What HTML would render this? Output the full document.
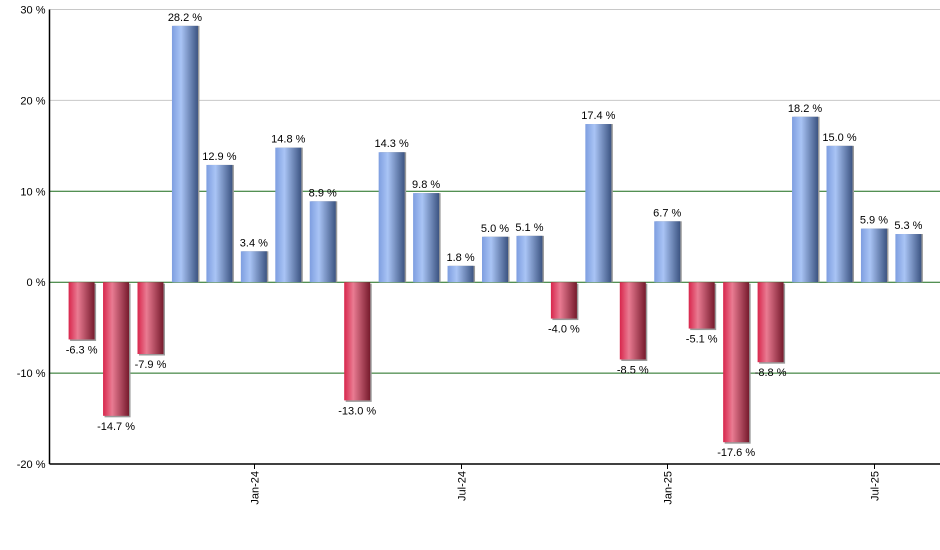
<!DOCTYPE html>
<html><head><meta charset="utf-8"><style>
body{margin:0;background:#fff;}
svg{display:block;font-family:"Liberation Sans",Arial,sans-serif;}
</style></head><body>
<svg id="chart" width="940" height="550" viewBox="0 0 940 550">
<defs>
<linearGradient id="gb" x1="0" x2="1" y1="0" y2="0">
<stop offset="0" stop-color="#7e9ee0"/><stop offset="0.35" stop-color="#a9c4f5"/><stop offset="1" stop-color="#3c5482"/>
</linearGradient>
<linearGradient id="gr" x1="0" x2="1" y1="0" y2="0">
<stop offset="0" stop-color="#d8264c"/><stop offset="0.35" stop-color="#e97b92"/><stop offset="1" stop-color="#761a2c"/>
</linearGradient>
</defs>
<g id="grid"></g>
<g id="bars"></g>
<g id="axes"></g>
</svg>
<script>
const categories=["Aug-23","Sep-23","Oct-23","Nov-23","Dec-23","Jan-24","Feb-24","Mar-24","Apr-24","May-24","Jun-24","Jul-24","Aug-24","Sep-24","Oct-24","Nov-24","Dec-24","Jan-25","Feb-25","Mar-25","Apr-25","May-25","Jun-25","Jul-25","Aug-25"];
const values=[-6.3,-14.7,-7.9,28.2,12.9,3.4,14.8,8.9,-13.0,14.3,9.8,1.8,5.0,5.1,-4.0,17.4,-8.5,6.7,-5.1,-17.6,-8.8,18.2,15.0,5.9,5.3];
const yTicks=[30,20,10,0,-10,-20];
const xTickLabels=["Jan-24","Jul-24","Jan-25","Jul-25"];
const NS="http://www.w3.org/2000/svg";
const X0=49.5,X1=940,Y30=9.5,Ym20=464;
function y(v){return Ym20-(v+20)*(Ym20-Y30)/50;}
function xc(i){return 81.6+i*34.45;}
function mk(t,a,p){const e=document.createElementNS(NS,t);for(const k in a)e.setAttribute(k,a[k]);p.appendChild(e);return e;}
const grid=document.getElementById('grid'),bars=document.getElementById('bars'),axes=document.getElementById('axes');
yTicks.forEach(t=>{
 if(t>-20){const l=mk('line',{x1:X0,x2:X1,y1:y(t),y2:y(t),stroke:t>=20?'#c8c8c8':'#1a6b1a','stroke-width':1},grid);
 
 }
 const tx=mk('text',{x:X0-4,y:y(t)+4,'text-anchor':'end','font-size':11,fill:'#000'},axes);
 tx.textContent=t+' %';
 
 
});
values.forEach((v,i)=>{
 const cx=xc(i),w=26,top=Math.min(y(v),y(0)),h=Math.abs(y(v)-y(0));
 mk('rect',{x:cx-w/2+1.5,y:top+(v<0?1.5:0),width:w,height:h,fill:'#9a9a9a'},bars);
 const r=mk('rect',{x:cx-w/2,y:top,width:w,height:h,fill:v>=0?'url(#gb)':'url(#gr)'},bars);
 
 
 const lb=mk('text',{x:cx,y:v>=0?y(v)-5:y(v)+14,'text-anchor':'middle','font-size':11,fill:'#000'},bars);
 lb.textContent=v.toFixed(1)+' %';
 
 
});
const ya=mk('line',{x1:X0,x2:X0,y1:Y30,y2:Ym20,stroke:'#000','stroke-width':1.5},axes);


const xa=mk('line',{x1:X0,x2:X1,y1:Ym20,y2:Ym20,stroke:'#000','stroke-width':1.5},axes);


xTickLabels.forEach(lbl=>{
 const i=categories.indexOf(lbl),cx=Math.round(xc(i))+0.5;
 mk('line',{x1:cx,x2:cx,y1:Ym20,y2:Ym20+5,stroke:'#000'},axes);
 const t=mk('text',{x:0,y:0,'text-anchor':'end','font-size':11,fill:'#000',transform:`translate(${cx+4},${Ym20+7}) rotate(-90)`},axes);
 t.textContent=lbl;
 
 
});
</script>
</body></html>
